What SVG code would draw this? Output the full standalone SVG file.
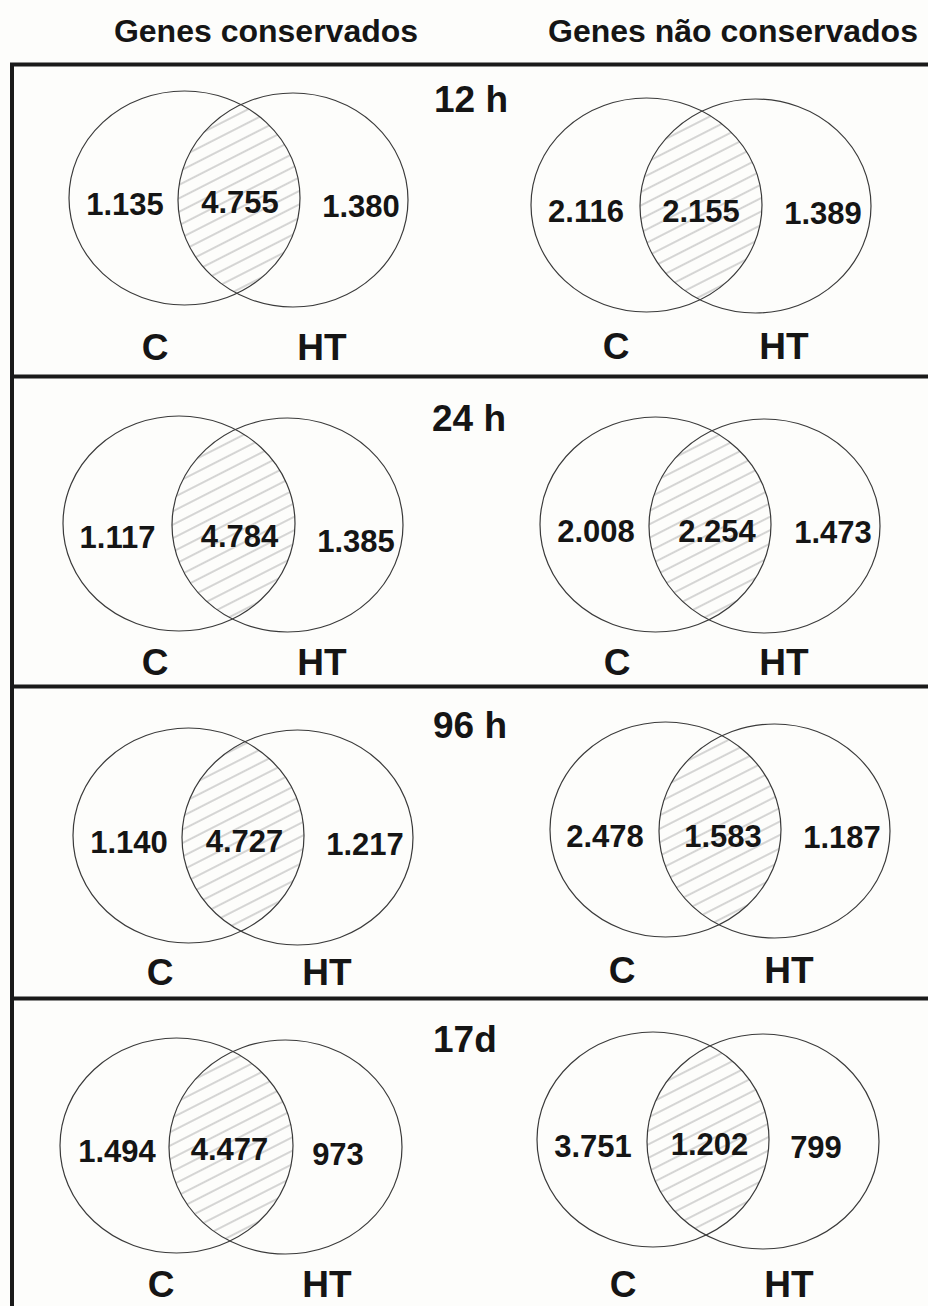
<svg xmlns="http://www.w3.org/2000/svg" width="928" height="1306" viewBox="0 0 928 1306">
<style>
.bg{fill:#fdfdfb}
.frame{stroke:#1a1a1a;stroke-width:4;fill:none}
.ell{fill:none;stroke:#3a3a3a;stroke-width:1.2}
.hatch{stroke:none}
.num{font-family:"Liberation Sans",Arial,sans-serif;font-weight:bold;font-size:31px;fill:#151515;text-anchor:middle}
.lab{font-family:"Liberation Sans",Arial,sans-serif;font-weight:bold;font-size:37px;fill:#151515;text-anchor:middle}
.time{font-family:"Liberation Sans",Arial,sans-serif;font-weight:bold;font-size:37px;fill:#151515}
.head{font-family:"Liberation Sans",Arial,sans-serif;font-weight:bold;font-size:32px;fill:#151515;text-anchor:middle}
</style>
<defs>
<pattern id="hp" patternUnits="userSpaceOnUse" width="12" height="12" patternTransform="rotate(-27)">
<line x1="0" y1="6" x2="12" y2="6" stroke="#b4b4b4" stroke-width="1.1"/>
</pattern>
<clipPath id="c1L"><ellipse cx="184.5" cy="198" rx="115.5" ry="107"/></clipPath>
<clipPath id="c1R"><ellipse cx="646.5" cy="205" rx="115.5" ry="107"/></clipPath>
<clipPath id="c2L"><ellipse cx="179" cy="523.5" rx="116" ry="107.5"/></clipPath>
<clipPath id="c2R"><ellipse cx="655.5" cy="524.5" rx="115.5" ry="107.5"/></clipPath>
<clipPath id="c3L"><ellipse cx="188.5" cy="835.5" rx="115.5" ry="107.5"/></clipPath>
<clipPath id="c3R"><ellipse cx="665.5" cy="829.5" rx="115.5" ry="107.5"/></clipPath>
<clipPath id="c4L"><ellipse cx="176.5" cy="1145.5" rx="116.5" ry="107.5"/></clipPath>
<clipPath id="c4R"><ellipse cx="653" cy="1139.5" rx="116" ry="107.5"/></clipPath>
</defs>
<rect class="bg" x="0" y="0" width="928" height="1306"/>

<g id="headers">
<text class="head" x="266" y="42">Genes conservados</text>
<text class="head" x="733" y="42">Genes não conservados</text>
</g>

<g id="frame">
<path class="frame" d="M12 64.5 H928 M12 62.5 V1306 M12 376.5 H928 M12 686.5 H928 M12 998.5 H928"/>
</g>

<g id="timelabels">
<text class="time" x="434" y="112">12 h</text>
<text class="time" x="432" y="431">24 h</text>
<text class="time" x="433" y="738">96 h</text>
<text class="time" x="433" y="1052">17d</text>
</g>

<g id="venn-12h-conservados">
<ellipse class="hatch" cx="293" cy="200" rx="115" ry="107" fill="url(#hp)" clip-path="url(#c1L)"/>
<ellipse class="ell" cx="184.5" cy="198" rx="115.5" ry="107"/>
<ellipse class="ell" cx="293" cy="200" rx="115" ry="107"/>
<text class="num" x="125" y="215">1.135</text>
<text class="num" x="240" y="213">4.755</text>
<text class="num" x="361" y="217">1.380</text>
<text class="lab" x="155" y="360">C</text>
<text class="lab" x="322" y="360">HT</text>
</g>

<g id="venn-12h-nao-conservados">
<ellipse class="hatch" cx="755.5" cy="206" rx="115.5" ry="107" fill="url(#hp)" clip-path="url(#c1R)"/>
<ellipse class="ell" cx="646.5" cy="205" rx="115.5" ry="107"/>
<ellipse class="ell" cx="755.5" cy="206" rx="115.5" ry="107"/>
<text class="num" x="586" y="222">2.116</text>
<text class="num" x="701" y="222">2.155</text>
<text class="num" x="823" y="224">1.389</text>
<text class="lab" x="616" y="359">C</text>
<text class="lab" x="784" y="359">HT</text>
</g>

<g id="venn-24h-conservados">
<ellipse class="hatch" cx="287.5" cy="525" rx="115.5" ry="107" fill="url(#hp)" clip-path="url(#c2L)"/>
<ellipse class="ell" cx="179" cy="523.5" rx="116" ry="107.5"/>
<ellipse class="ell" cx="287.5" cy="525" rx="115.5" ry="107"/>
<text class="num" x="117.5" y="548">1.117</text>
<text class="num" x="239.5" y="547">4.784</text>
<text class="num" x="356" y="552">1.385</text>
<text class="lab" x="155" y="675">C</text>
<text class="lab" x="322" y="675">HT</text>
</g>

<g id="venn-24h-nao-conservados">
<ellipse class="hatch" cx="764.5" cy="526" rx="115.5" ry="107" fill="url(#hp)" clip-path="url(#c2R)"/>
<ellipse class="ell" cx="655.5" cy="524.5" rx="115.5" ry="107.5"/>
<ellipse class="ell" cx="764.5" cy="526" rx="115.5" ry="107"/>
<text class="num" x="596" y="542">2.008</text>
<text class="num" x="717" y="542">2.254</text>
<text class="num" x="833" y="543">1.473</text>
<text class="lab" x="617" y="675">C</text>
<text class="lab" x="784" y="675">HT</text>
</g>

<g id="venn-96h-conservados">
<ellipse class="hatch" cx="297.5" cy="837.5" rx="115.5" ry="107.5" fill="url(#hp)" clip-path="url(#c3L)"/>
<ellipse class="ell" cx="188.5" cy="835.5" rx="115.5" ry="107.5"/>
<ellipse class="ell" cx="297.5" cy="837.5" rx="115.5" ry="107.5"/>
<text class="num" x="129" y="853">1.140</text>
<text class="num" x="244.5" y="852">4.727</text>
<text class="num" x="365" y="855">1.217</text>
<text class="lab" x="160" y="985">C</text>
<text class="lab" x="327" y="985">HT</text>
</g>

<g id="venn-96h-nao-conservados">
<ellipse class="hatch" cx="774.5" cy="831" rx="115.5" ry="107" fill="url(#hp)" clip-path="url(#c3R)"/>
<ellipse class="ell" cx="665.5" cy="829.5" rx="115.5" ry="107.5"/>
<ellipse class="ell" cx="774.5" cy="831" rx="115.5" ry="107"/>
<text class="num" x="605" y="847">2.478</text>
<text class="num" x="723" y="847">1.583</text>
<text class="num" x="842" y="848">1.187</text>
<text class="lab" x="622" y="983">C</text>
<text class="lab" x="789" y="983">HT</text>
</g>

<g id="venn-17d-conservados">
<ellipse class="hatch" cx="285.5" cy="1147" rx="116.5" ry="107" fill="url(#hp)" clip-path="url(#c4L)"/>
<ellipse class="ell" cx="176.5" cy="1145.5" rx="116.5" ry="107.5"/>
<ellipse class="ell" cx="285.5" cy="1147" rx="116.5" ry="107"/>
<text class="num" x="117" y="1162">1.494</text>
<text class="num" x="229.5" y="1160">4.477</text>
<text class="num" x="338" y="1165">973</text>
<text class="lab" x="161" y="1297">C</text>
<text class="lab" x="327" y="1297">HT</text>
</g>

<g id="venn-17d-nao-conservados">
<ellipse class="hatch" cx="763" cy="1141.5" rx="116" ry="107.5" fill="url(#hp)" clip-path="url(#c4R)"/>
<ellipse class="ell" cx="653" cy="1139.5" rx="116" ry="107.5"/>
<ellipse class="ell" cx="763" cy="1141.5" rx="116" ry="107.5"/>
<text class="num" x="593" y="1157">3.751</text>
<text class="num" x="709.5" y="1155">1.202</text>
<text class="num" x="816" y="1158">799</text>
<text class="lab" x="623" y="1297">C</text>
<text class="lab" x="789" y="1297">HT</text>
</g>
</svg>
